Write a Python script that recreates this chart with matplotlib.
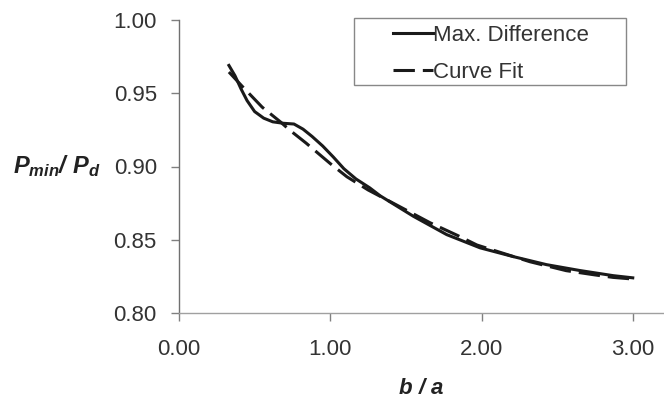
import matplotlib
matplotlib.use("Agg")
import matplotlib.pyplot as plt
from matplotlib.patches import Rectangle
from matplotlib.ticker import FormatStrFormatter

# ── Donnees ──────────────────────────────────────────────────────────────────
b_sur_a_max = [0.33, 0.37, 0.41, 0.45, 0.50, 0.56, 0.62, 0.69, 0.76, 0.82,
               0.88, 0.95, 1.02, 1.09, 1.17, 1.26, 1.33, 1.55, 1.77, 1.99,
               2.21, 2.43, 2.65, 2.87, 3.00]
p_max_diff  = [0.969, 0.962, 0.953, 0.945, 0.9375, 0.933, 0.9305, 0.9295, 0.929, 0.9255,
               0.9205, 0.9140, 0.9065, 0.8985, 0.8915, 0.8855, 0.8800, 0.8660, 0.8535, 0.8445,
               0.8385, 0.8330, 0.8290, 0.8255, 0.8240]

b_sur_a_fit = [0.33, 0.42, 0.55, 0.67, 0.73, 0.84, 1.00, 1.11, 1.25, 1.41,
               1.66, 1.84, 1.97, 2.32, 2.56, 2.75, 2.87, 3.00]
p_fit       = [0.9645, 0.9545, 0.9405, 0.9305, 0.9250, 0.9160, 0.9020, 0.8930, 0.8840, 0.8753,
               0.8616, 0.8530, 0.8464, 0.8350, 0.8289, 0.8260, 0.8243, 0.8232]

x_ticks = [0, 1, 2, 3]
y_ticks = [0.80, 0.85, 0.90, 0.95, 1.00]

# ── Style ────────────────────────────────────────────────────────────────────
plt.rcParams["font.family"] = ["Liberation Sans", "DejaVu Sans"]
plt.rcParams["mathtext.fontset"] = "custom"
plt.rcParams["mathtext.it"] = "Liberation Sans:bold:italic"
plt.rcParams["mathtext.rm"] = "Liberation Sans:bold:italic"
plt.rcParams["mathtext.bf"] = "Liberation Sans:bold:italic"

W, H = 664, 397
fig = plt.figure(figsize=(W / 100, H / 100), dpi=100)
ax = fig.add_axes([179 / W, 1 - 313 / H, (663 - 179) / W, (313 - 20) / H])

ax.plot(b_sur_a_max, p_max_diff, color="#1a1a1a", lw=2.2, label="Max. Difference")
ax.plot(b_sur_a_fit, p_fit, color="#1a1a1a", lw=2.2, linestyle=(0, (7.0, 2.6)),
        label="Curve Fit")

ax.set_xlim(0, 3.2)
ax.set_ylim(0.80, 1.00)
ax.set_xticks(x_ticks)
ax.set_yticks(y_ticks)
ax.xaxis.set_major_formatter(FormatStrFormatter("%.2f"))
ax.yaxis.set_major_formatter(FormatStrFormatter("%.2f"))

for s in ["top", "right"]:
    ax.spines[s].set_visible(False)
ax.spines["left"].set_color("#707070")
ax.spines["bottom"].set_color("#a0a0a0")
ax.spines["left"].set_linewidth(1.0)
ax.spines["bottom"].set_linewidth(1.0)

ax.tick_params(axis="x", direction="out", length=6, width=1, color="#808080",
               pad=13, labelsize=16, labelcolor="#333333")
ax.tick_params(axis="y", direction="out", length=6, width=1, color="#808080",
               pad=10, labelsize=16, labelcolor="#333333")

# ── Titres des axes ──────────────────────────────────────────────────────────
ax.set_xlabel(r"$b\ /\ a$", fontsize=16, color="#222222")
ax.xaxis.set_label_coords(0.5, -0.256)
ax.xaxis.label.set_va("center")
ax.set_ylabel(r"$P_{min}/\ P_{d}$", fontsize=17, color="#222222", rotation=0)
ax.yaxis.set_label_coords(-0.252, 0.5)
ax.yaxis.label.set_va("center")
ax.yaxis.label.set_ha("center")

# ── Legende (cadre dessine a part) ───────────────────────────────────────────
leg = ax.legend(loc="upper left", bbox_to_anchor=(393 / W, 1 - 25 / H),
                bbox_transform=fig.transFigure, frameon=False, fontsize=16,
                borderpad=0, borderaxespad=0, handlelength=1.8,
                handletextpad=0.0, labelspacing=0.7)
for t in leg.get_texts():
    t.set_color("#333333")
fig.add_artist(Rectangle((354 / W, 1 - 85 / H), (626 - 354) / W, (85 - 18) / H,
                         transform=fig.transFigure, fill=False,
                         edgecolor="#888888", lw=1.0))

fig.savefig("out.png", dpi=100)
plt.close(fig)
